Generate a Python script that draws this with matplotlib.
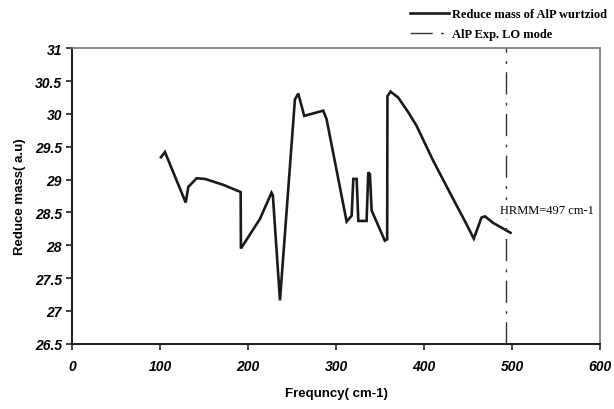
import matplotlib
matplotlib.use("Agg")
import matplotlib.pyplot as plt

# Reduce mass curve
freq = [100.8, 105.3, 128.9, 131.9, 141.4, 150.9, 171.6, 191.4, 191.7, 213.3,
        226.5, 228.0, 236.1, 253.1, 256.9, 263.7, 285.3, 289.1, 311.9, 317.6,
        319.5, 323.3, 325.2, 334.6, 336.5, 338.4, 340.3, 355.3, 358.0, 358.3,
        361.8, 370.5, 381.8, 391.4, 410.2, 429.3, 448.2, 456.5, 465.2, 469.1,
        478.5, 498.2]
mass = [29.34, 29.42, 28.65, 28.89, 29.02, 29.01, 28.92, 28.81, 27.95, 28.40,
        28.80, 28.76, 27.16, 30.22, 30.31, 29.97, 30.05, 29.92, 28.36, 28.45,
        29.01, 29.01, 28.37, 28.37, 29.11, 29.08, 28.53, 28.07, 28.09, 30.27,
        30.34, 30.25, 30.03, 29.82, 29.29, 28.80, 28.32, 28.10, 28.42, 28.44,
        28.34, 28.19]
lo_mode = 492.8
xticks = [0, 100, 200, 300, 400, 500, 600]
yticks = [26.5, 27, 27.5, 28, 28.5, 29, 29.5, 30, 30.5, 31]

plt.rcParams['font.family'] = ['Liberation Sans', 'DejaVu Sans']
fig = plt.figure(figsize=(6.14, 4.10), dpi=100)
ax = fig.add_axes([0.1178, 0.1593, 0.8594, 0.7205])

l1, = ax.plot(freq, mass, color='#1a1a1a', lw=1.9, solid_joinstyle='miter')
l2 = ax.axvline(lo_mode, color='#333333', lw=1.0, linestyle=(0, (16, 6, 2, 6)))

ax.text(486, 28.54, 'HRMM=497 cm-1', family='Liberation Serif', fontsize=9,
        va='center', ha='left', zorder=4, clip_on=False,
        bbox=dict(facecolor='white', edgecolor='none', pad=2.5))

ax.set_xlim(0, 600)
ax.set_ylim(26.5, 31)
ax.set_xticks(xticks)
ax.set_yticks(yticks)
ax.set_xticklabels([str(t) for t in xticks], fontsize=10, fontweight='bold', style='italic')
ax.set_yticklabels(['%g' % t for t in yticks], fontsize=10, fontweight='bold', style='italic')
ax.tick_params(direction='out', length=4, width=1.2, color='#222222')
ax.tick_params(axis='x', pad=7)
for s in ['left', 'bottom']:
    ax.spines[s].set_linewidth(1.5)
    ax.spines[s].set_color('#222222')
for s in ['top', 'right']:
    ax.spines[s].set_linewidth(1.2)
    ax.spines[s].set_color('#777777')

ax.set_xlabel('Frequncy( cm-1)', fontsize=9.5, fontweight='bold', labelpad=10)
ax.set_ylabel('Reduce mass( a.u)', fontsize=9.5, fontweight='bold', labelpad=6)

fig.legend([l1, l2], ['Reduce mass of AlP wurtziod', 'AlP Exp. LO mode'],
           loc='upper left', bbox_to_anchor=(410 / 614, 0.977), frameon=False,
           prop={'family': 'Liberation Serif', 'weight': 'bold', 'size': 9},
           handlelength=3.1, handletextpad=0.3, labelspacing=0.6,
           borderpad=0, borderaxespad=0)

fig.savefig('out.png', dpi=100)
